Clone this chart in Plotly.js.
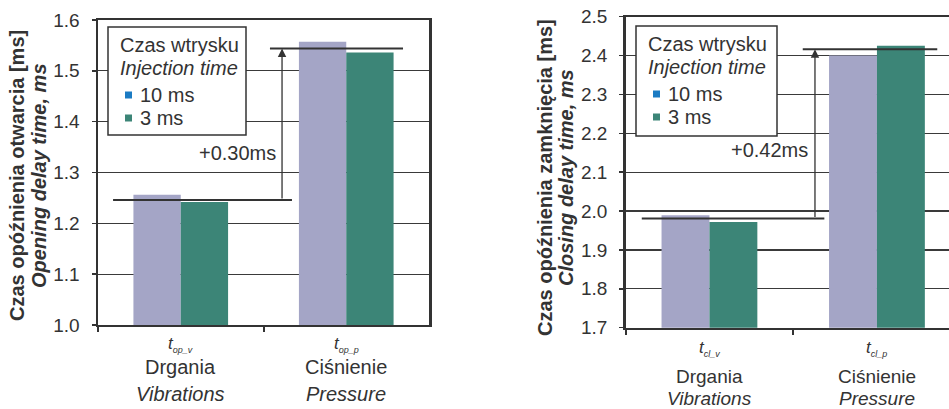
<!DOCTYPE html>
<html>
<head>
<meta charset="utf-8">
<script src="https://cdn.plot.ly/plotly-3.0.1.min.js"></script>
<style>html,body{margin:0;padding:0;background:#fff;}#chart{width:949px;height:409px;}</style>
</head>
<body>
<div id="chart"></div>
<script>
// ---- data ----
const categories = ['Drgania', 'Ciśnienie'];
const catEnglish = ['Vibrations', 'Pressure'];
const openSymbols = ['op_v', 'op_p'];
const closeSymbols = ['cl_v', 'cl_p'];
const seriesNames = ['10 ms', '3 ms'];
const opening10 = [1.256, 1.557];
const opening3 = [1.242, 1.536];
const closing10 = [1.989, 2.400];
const closing3 = [1.972, 2.425];
const openingRef = [1.246, 1.544];
const closingRef = [1.981, 2.416];
const openingDiff = '+0.30ms';
const closingDiff = '+0.42ms';
const openTicks = [1.0, 1.1, 1.2, 1.3, 1.4, 1.5, 1.6];
const closeTicks = [1.7, 1.8, 1.9, 2.0, 2.1, 2.2, 2.3, 2.4, 2.5];

// ---- style ----
const FONT = 'Liberation Sans, Arial, sans-serif';
const LAV = '#a4a5c6';
const TEAL = '#3c8577';
const LEGBLUE = '#1b7bc3';
const INK = '#333333';
const W = 949, H = 409;
const px = v => v / W;
const py = v => 1 - v / H;

const traces = [
  {type: 'bar', x: categories, y: opening10, name: seriesNames[0], marker: {color: LAV}, xaxis: 'x', yaxis: 'y', showlegend: false},
  {type: 'bar', x: categories, y: opening3, name: seriesNames[1], marker: {color: TEAL}, xaxis: 'x', yaxis: 'y', showlegend: false},
  {type: 'bar', x: categories, y: closing10, name: seriesNames[0], marker: {color: LAV}, xaxis: 'x2', yaxis: 'y2', showlegend: false},
  {type: 'bar', x: categories, y: closing3, name: seriesNames[1], marker: {color: TEAL}, xaxis: 'x2', yaxis: 'y2', showlegend: false}
];

function xAxis(domain, range, anchor) {
  return {
    domain: domain, anchor: anchor, type: 'category', categoryorder: 'array', categoryarray: categories,
    range: range, showgrid: false, showline: true, linecolor: INK, linewidth: 2, mirror: true,
    ticks: 'outside', tickson: 'boundaries', ticklen: 5, tickwidth: 2, tickcolor: INK,
    showticklabels: false, zeroline: false, fixedrange: true, automargin: false
  };
}
function yAxis(domain, range, ticks, anchor, mirror) {
  return {
    domain: domain, anchor: anchor, range: range, tickvals: ticks, tickformat: '.1f',
    showgrid: true, gridcolor: '#3a3a3a', gridwidth: 1.3, showline: true, linecolor: INK, linewidth: 2.5,
    mirror: mirror, ticks: 'outside', ticklen: 4, tickwidth: 1.5, tickcolor: INK, ticklabelstandoff: 8,
    tickfont: {family: FONT, size: 19, color: INK}, zeroline: false, fixedrange: true, automargin: false
  };
}

const leftX0 = 98, leftX1 = 429;
const rightX0 = 625.7, rightBand = 167.5;
const rightRangeEnd = -0.5 + (W - rightX0) / rightBand;

const shapes = [
  {type: 'line', xref: 'x', yref: 'y', x0: -0.409, x1: 0.672, y0: openingRef[0], y1: openingRef[0], line: {color: INK, width: 2}},
  {type: 'line', xref: 'x', yref: 'y', x0: 0.539, x1: 1.343, y0: openingRef[1], y1: openingRef[1], line: {color: INK, width: 2}},
  {type: 'line', xref: 'x2', yref: 'y2', x0: -0.404, x1: 0.686, y0: closingRef[0], y1: closingRef[0], line: {color: INK, width: 2}},
  {type: 'line', xref: 'x2', yref: 'y2', x0: 0.557, x1: 1.360, y0: closingRef[1], y1: closingRef[1], line: {color: INK, width: 2}}
];

const annotations = [
  {xref: 'x', yref: 'y', axref: 'x', ayref: 'y', x: 0.612, y: openingRef[1], ax: 0.612, ay: openingRef[0], text: '', showarrow: true, arrowhead: 2, arrowsize: 1.3, arrowwidth: 1.3, arrowcolor: INK},
  {xref: 'x2', yref: 'y2', axref: 'x2', ayref: 'y2', x: 0.630, y: closingRef[1], ax: 0.630, ay: closingRef[0], text: '', showarrow: true, arrowhead: 2, arrowsize: 1.3, arrowwidth: 1.3, arrowcolor: INK},
  {xref: 'x', yref: 'y', x: 0.585, y: 1.338, text: openingDiff, showarrow: false, xanchor: 'right', yanchor: 'middle', font: {family: FONT, size: 20, color: INK}},
  {xref: 'x2', yref: 'y2', x: 0.601, y: 2.157, text: closingDiff, showarrow: false, xanchor: 'right', yanchor: 'middle', font: {family: FONT, size: 20, color: INK}},
  // y titles
  {xref: 'paper', yref: 'paper', x: px(17), y: py(176), text: '<b>Czas opóźnienia otwarcia [ms]</b>', textangle: -90, showarrow: false, xanchor: 'center', yanchor: 'middle', font: {family: FONT, size: 20, color: INK}},
  {xref: 'paper', yref: 'paper', x: px(39), y: py(176), text: '<b><i>Opening delay time, ms</i></b>', textangle: -90, showarrow: false, xanchor: 'center', yanchor: 'middle', font: {family: FONT, size: 20, color: INK}},
  {xref: 'paper', yref: 'paper', x: px(545), y: py(178), text: '<b>Czas opóźnienia zamknięcia [ms]</b>', textangle: -90, showarrow: false, xanchor: 'center', yanchor: 'middle', font: {family: FONT, size: 20, color: INK}},
  {xref: 'paper', yref: 'paper', x: px(566), y: py(178), text: '<b><i>Closing delay time, ms</i></b>', textangle: -90, showarrow: false, xanchor: 'center', yanchor: 'middle', font: {family: FONT, size: 20, color: INK}}
];

// manual legends (box, title lines, swatches, labels)
[[108, 246, 27, 135], [636, 777, 26, 136]].forEach(([x0, x1, y0, y1]) => {
  shapes.push({type: 'rect', xref: 'paper', yref: 'paper', x0: px(x0), x1: px(x1), y0: py(y1), y1: py(y0), line: {color: INK, width: 1.5}, fillcolor: '#ffffff', layer: 'above'});
  annotations.push({xref: 'paper', yref: 'paper', x: px(x0 + 10), y: py(y0 + 18), text: 'Czas wtrysku', showarrow: false, xanchor: 'left', yanchor: 'middle', font: {family: FONT, size: 20, color: INK}});
  annotations.push({xref: 'paper', yref: 'paper', x: px(x0 + 10), y: py(y0 + 41), text: '<i>Injection time</i>', showarrow: false, xanchor: 'left', yanchor: 'middle', font: {family: FONT, size: 20, color: INK}});
  const cols = [LEGBLUE, TEAL];
  seriesNames.forEach((n, i) => {
    const cy = y0 + 68 + i * 23;
    shapes.push({type: 'rect', xref: 'paper', yref: 'paper', x0: px(x0 + 17), x1: px(x0 + 24), y0: py(cy + 3.5), y1: py(cy - 3.5), line: {width: 0}, fillcolor: cols[i], layer: 'above'});
    annotations.push({xref: 'paper', yref: 'paper', x: px(x0 + 30), y: py(cy), text: n, showarrow: false, xanchor: 'left', yanchor: 'middle', font: {family: FONT, size: 20, color: INK}});
  });
});

// category labels
const leftRows = [344, 367, 394];
const rightRows = [348, 376, 398];
const rowFont = [[17, 20, 20], [17, 19, 19]];
categories.forEach((c, i) => {
  [['x', openSymbols[i], leftRows, rowFont[0]], ['x2', closeSymbols[i], rightRows, rowFont[1]]].forEach(([xr, sym, rows, fs]) => {
    annotations.push({xref: xr, yref: 'paper', x: c, y: py(rows[0]), text: '<i>t</i><sub><i><span style="font-size:9px">' + sym + '</span></i></sub>', showarrow: false, yanchor: 'middle', font: {family: FONT, size: fs[0], color: INK}});
    annotations.push({xref: xr, yref: 'paper', x: c, y: py(rows[1]), text: c, showarrow: false, yanchor: 'middle', font: {family: FONT, size: fs[1], color: INK}});
    annotations.push({xref: xr, yref: 'paper', x: c, y: py(rows[2]), text: '<i>' + catEnglish[i] + '</i>', showarrow: false, yanchor: 'middle', font: {family: FONT, size: fs[2], color: INK}});
  });
});

const layout = {
  width: W, height: H, margin: {l: 0, r: 0, t: 0, b: 0},
  paper_bgcolor: '#ffffff', plot_bgcolor: '#ffffff',
  font: {family: FONT, color: INK},
  showlegend: false,
  barmode: 'group', bargap: 0.428, bargroupgap: 0,
  xaxis: xAxis([px(leftX0), px(leftX1)], [-0.5, 1.5], 'y'),
  yaxis: yAxis([py(325), py(20)], [1.0, 1.6], openTicks, 'x', true),
  xaxis2: xAxis([px(rightX0), 1], [-0.5, rightRangeEnd], 'y2'),
  yaxis2: yAxis([py(327.7), py(16.7)], [1.7, 2.5], closeTicks, 'x2', false),
  shapes: shapes,
  annotations: annotations
};

Plotly.newPlot('chart', traces, layout, {displayModeBar: false, staticPlot: true});
</script>
</body>
</html>
